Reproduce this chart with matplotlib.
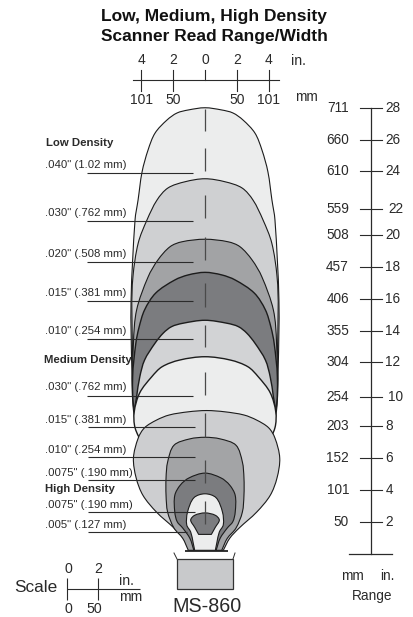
import matplotlib
matplotlib.use("Agg")
import matplotlib.pyplot as plt
from matplotlib.patches import PathPatch, Rectangle
from matplotlib.path import Path
from matplotlib.transforms import Affine2D
import numpy as np

# read zones, range (in.) from top of zone down, half width (in.) at that range
range_040 = [28.0, 27.86, 27.67, 27.23, 26.41, 25.35, 23.96, 22.2, 20.95, 15.9, 11.5, 9.0, 7.1]
width_040 = [0, 1.05, 1.76, 2.39, 3.14, 3.58, 3.96, 4.21, 4.4, 4.65, 4.6, 4.5, 4.1]
range_030 = [23.54, 23.35, 22.96, 22.2, 20.95, 19.5, 17.4, 15.3, 9.65, 7.1]
width_030 = [0, 1.26, 2.33, 3.02, 3.65, 4.2, 4.53, 4.6, 4.4, 3.8]
range_020 = [19.74, 19.58, 19.27, 18.44, 17.37, 15.3, 13.2, 9.65, 7.1]
width_020 = [0, 1.45, 2.2, 2.96, 3.58, 4.3, 4.5, 4.5, 3.8]
range_015 = [17.66, 17.5, 17.18, 16.36, 15.3, 14.2, 13.2, 11.1, 9.0, 7.1]
width_015 = [0, 1.05, 1.9, 3.1, 3.8, 4.15, 4.35, 4.55, 4.45, 3.8]
range_010 = [14.65, 14.46, 14.25, 13.85, 13.2, 12.15, 11.1, 9.85, 9.0, 7.1]
width_010 = [0, 1.4, 2.1, 2.62, 3.15, 3.8, 4.1, 4.3, 4.4, 4.1]
range_m030 = [12.36, 12.15, 11.73, 11.1, 10.1, 8.9, 7.9, 6.8]
width_m030 = [0, 1.6, 2.7, 3.35, 4.1, 4.45, 4.4, 3.9]
range_m015 = [8.98, 8.9, 8.7, 8.38, 7.9, 7.25, 6.0, 4.75, 3.65, 2.6, 1.6, 0.95, 0.2]
width_m015 = [0, 1.15, 2.35, 3.15, 3.9, 4.3, 4.6, 4.43, 4.0, 3.15, 2.05, 1.45, 1.05]
range_m010 = [7.3, 7.2, 6.8, 5.75, 4.75, 3.65, 2.6, 1.6, 0.95, 0.2]
width_m010 = [0, 0.95, 1.95, 2.35, 2.45, 2.45, 2.35, 1.95, 1.4, 1.05]
range_m0075 = [5.05, 4.75, 4.3, 3.65, 2.6, 2.0, 1.6, 0.95, 0.2]
width_m0075 = [0, 1.0, 1.55, 1.9, 1.9, 1.75, 1.4, 0.95, 0.7]
range_h0075 = [3.75, 3.5, 2.6, 1.8, 1.35, 0.7, 0.2]
width_h0075 = [0, 0.7, 1.1, 1.15, 0.9, 0.75, 0.65]
range_h005 = [2.55, 2.4, 2.1, 1.65, 1.2]
width_h005 = [0, 0.65, 0.9, 0.65, 0.4]

dash_top = [27.9, 25.45, 22.5, 19.9, 17.0, 14.35, 11.4, 8.85, 5.85, 3.3]
dash_bot = [26.55, 24.0, 21.05, 18.45, 15.5, 12.95, 9.95, 7.3, 4.45, 1.85]

width_ticks = [-4, -2, 0, 2, 4]
width_in = ["4", "2", "0", "2", "4"]
width_mm_ticks = [-4, -2, 2, 4]
width_mm = ["101", "50", "50", "101"]

range_ticks = [28, 26, 24, 21.65, 20, 18, 16, 14, 12, 9.85, 8, 6, 4, 2]
range_in = ["28", "26", "24", "22", "20", "18", "16", "14", "12", "10", "8", "6", "4", "2"]
range_mm = ["711", "660", "610", "559", "508", "457", "406", "355", "304", "254", "203", "152", "101", "50"]

density_labels = ['.040" (1.02 mm)', '.030" (.762 mm)', '.020" (.508 mm)', '.015" (.381 mm)',
                  '.010" (.254 mm)', '.030" (.762 mm)', '.015" (.381 mm)', '.010" (.254 mm)',
                  '.0075" (.190 mm)', '.0075" (.190 mm)', '.005" (.127 mm)']
label_py = [165, 213, 254, 293, 331, 387, 420, 450, 473, 505, 525]
leader_py = [172.5, 221, 262, 300.5, 339, 396, 427, 457, 480, 511.7, 531.7]

plt.rcParams['font.family'] = ['Liberation Sans', 'DejaVu Sans']
INK = '#2b2b2b'

fig = plt.figure(figsize=(4.13, 6.17), dpi=100)
ax = fig.add_axes([0, 0, 1, 1])
ax.set_xlim(-205 / 15.9, 208 / 15.9)
ax.set_ylim(-63.5 / 15.92, 553.5 / 15.92)
ax.axis('off')

# pixel coords for the text and the small furniture, y going down
px = Affine2D().scale(1, -1).translate(0, 617)


def label(x, y, s, size=9.8, ha='left', **kw):
    ax.text(x, y, s, transform=px, fontsize=size, ha=ha, va='center', color='#2a2a2a', **kw)


def hline(x0, x1, y, lw=0.8, color=INK):
    ax.plot([x0, x1], [y, y], transform=px, color=color, lw=lw, solid_capstyle='butt')


def vline(x, y0, y1, lw=0.8, color=INK):
    ax.plot([x, x], [y0, y1], transform=px, color=color, lw=lw, solid_capstyle='butt')


def zone(r, w, color, z, shift=0.0, lw=0.8):
    # half outline as beziers through the read points (chord scaled tangents), then mirrored
    pts = np.column_stack([w, r])
    p = np.vstack([pts[1] * [-1, 1], pts, 2 * pts[-1] - pts[-2]])
    d = np.hypot(*np.diff(p, axis=0).T)
    tang = (p[2:] - p[:-2]) / (d[1:] + d[:-1])[:, None]
    verts = [pts[0]]
    codes = [Path.MOVETO]
    for i in range(len(pts) - 1):
        seg = d[i + 1] / 3
        verts += [pts[i] + tang[i] * seg, pts[i + 1] - tang[i + 1] * seg, pts[i + 1]]
        codes += [Path.CURVE4] * 3
    right = np.array(verts)
    left = right[::-1] * [-1, 1]
    all_v = np.vstack([right, left, right[0:1]]) + [shift, 0]
    all_c = codes + [Path.LINETO] + [Path.CURVE4] * (len(left) - 1) + [Path.CLOSEPOLY]
    ax.add_patch(PathPatch(Path(all_v, all_c), facecolor=color, edgecolor='#1c1c1c', lw=lw, zorder=z,
                           joinstyle='round'))


zone(range_040, width_040, '#eceded', 2)
zone(range_030, width_030, '#cfd0d2', 3)
zone(range_020, width_020, '#a2a3a5', 4)
zone(range_015, width_015, '#7b7c7f', 5, lw=1.0)
zone(range_010, width_010, '#d2d3d5', 6, lw=1.0)
zone(range_m030, width_m030, '#eceded', 7, lw=1.0)
zone(range_m015, width_m015, '#cdced0', 8, shift=0.1)
zone(range_m010, width_m010, '#a3a4a6', 9)
zone(range_m0075, width_m0075, '#7b7c7f', 10)
zone(range_h0075, width_h0075, '#eceded', 11)
zone(range_h005, width_h005, '#7b7c7f', 12)

# center line
for top, bot in zip(dash_top, dash_bot):
    ax.plot([0, 0], [top, bot], color='#4a4a4a', lw=0.9, zorder=14, solid_capstyle='butt')

# leaders and density labels
for i, (s, ly, ky) in enumerate(zip(density_labels, label_py, leader_py)):
    label(45, ly, s, size=8.2)
    x0, x1 = (87, 193) if i < 6 else (88, 195)
    if i == 10:
        x1 = 187
    ax.plot([x0, x1], [ky, ky], transform=px, color=INK, lw=0.8, zorder=15, solid_capstyle='butt')
label(46, 143, 'Low Density', size=8.2, fontweight='bold')
label(44, 360, 'Medium Density', size=8.2, fontweight='bold', zorder=15)
label(45, 489, 'High Density', size=8.2, fontweight='bold', zorder=15)

# scanner nose and body
hline(185, 228, 550.5, lw=1.2, color='#111111')
ax.add_patch(Rectangle((177, 559), 56, 30, transform=px, facecolor='#c8c9cb', edgecolor='#333333', lw=0.9, zorder=3))
hline(177, 233, 583, lw=0.8)
ax.plot([174, 177], [553, 559], transform=px, color=INK, lw=0.7)
ax.plot([235, 233], [553, 559], transform=px, color=INK, lw=0.7)
label(206.5, 607, 'MS-860', size=14.2, ha='center')

# titles
ax.text(214, 16, 'Low, Medium, High Density', transform=px, fontsize=12.5, ha='center', va='center',
        fontweight='bold', color='#111111')
ax.text(214, 36, 'Scanner Read Range/Width', transform=px, fontsize=12.5, ha='center', va='center',
        fontweight='bold', color='#111111')

# width scale along the top
ax.plot([-72 / 15.9, 74 / 15.9], [29.75, 29.75], color=INK, lw=0.8)
for t, s in zip(width_ticks, width_in):
    ax.plot([t, t], [29.75, 30.4], color=INK, lw=0.8)
    ax.text(t, 30.55, s, fontsize=10, ha='center', va='bottom', color='#2a2a2a')
for t, s in zip(width_mm_ticks, width_mm):
    ax.plot([t, t], [29.75, 29.05], color=INK, lw=0.8)
    ax.text(t, 28.95, s, fontsize=10, ha='center', va='top', color='#2a2a2a')
label(298, 61, 'in.', size=10.2, ha='center')
label(306, 97, 'mm', ha='center')

# range scale on the right
axis_x = (370.5 - 205) / 15.9
ax.plot([axis_x, axis_x], [0, 28], color=INK, lw=0.9)
ax.plot([(349 - 205) / 15.9, (392 - 205) / 15.9], [0, 0], color=INK, lw=0.9)
for t, si, sm in zip(range_ticks, range_in, range_mm):
    ax.plot([(360 - 205) / 15.9, (382 - 205) / 15.9], [t, t], color=INK, lw=0.8)
    xi = 388 if si in ("22", "10") else 385.5
    ax.text((xi - 205) / 15.9, t, si, fontsize=9.8, ha='left', va='center', color='#2a2a2a')
    ax.text((349 - 205) / 15.9, t, sm, fontsize=9.8, ha='right', va='center', color='#2a2a2a')
label(352, 575.5, 'mm', ha='center')
label(387, 575.5, 'in.', ha='center')
label(372.5, 596, 'Range', ha='center')

# little scale bottom left
label(36, 587, 'Scale', size=12.4, ha='center')
hline(67, 140, 589)
vline(67, 578, 600)
vline(98, 578, 600)
label(68, 569, '0', size=10.2, ha='center')
label(98, 569, '2', size=10.2, ha='center')
label(68, 609, '0', size=10.2, ha='center')
label(94, 609, '50', size=10.2, ha='center')
label(126, 581, 'in.', size=10.2, ha='center')
label(131, 597, 'mm', size=10.2, ha='center')

fig.savefig('out.png', dpi=100)
